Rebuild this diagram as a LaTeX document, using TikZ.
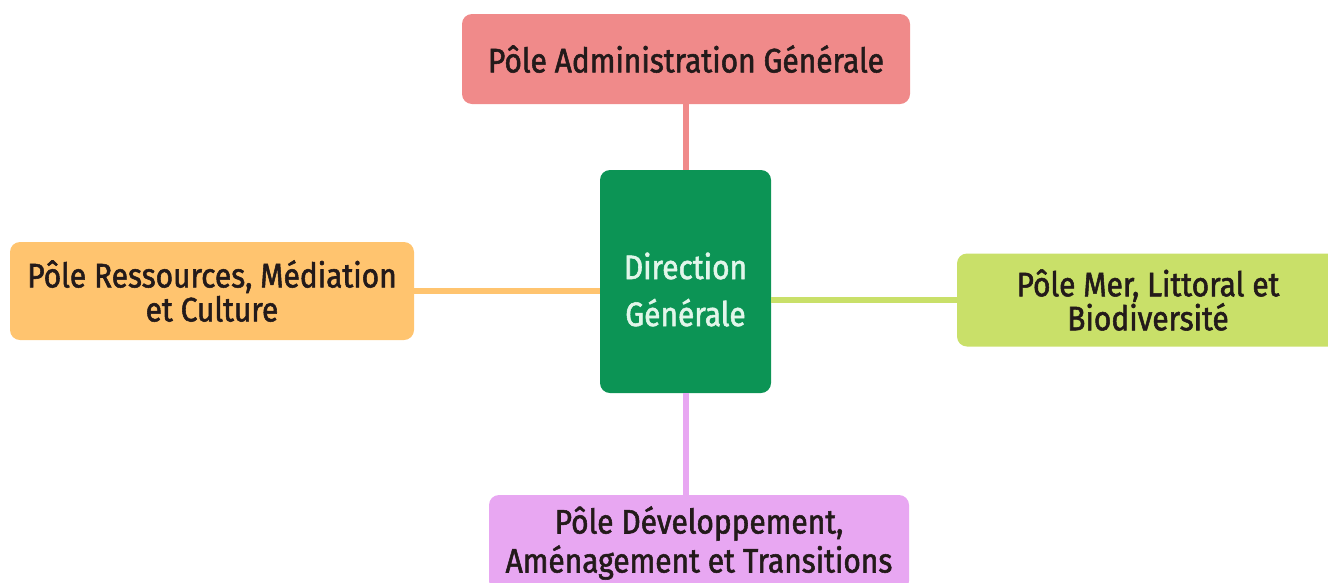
\documentclass[tikz,border=0pt]{standalone}
\usepackage{fontspec}
\setmainfont{Fira Sans}[FakeStretch=0.88, UprightFeatures={FakeBold=1.6}]
\definecolor{admred}{HTML}{F08A8A}
\definecolor{dggreen}{HTML}{0C9455}
\definecolor{rmcorange}{HTML}{FFC46F}
\definecolor{mlblime}{HTML}{C9E069}
\definecolor{datpink}{HTML}{E8A7F2}
\definecolor{poletext}{HTML}{231A1A}
\definecolor{dgtext}{HTML}{E2F6EA}
\tikzset{
  pole/.style={rectangle, rounded corners=10pt, inner sep=0pt, align=center,
    text=poletext, font=\fontsize{34}{34}\selectfont},
  link/.style={line width=6pt}
}
\begin{document}
\begin{tikzpicture}[x=1pt, y=-1pt]
    \useasboundingbox (0,0) rectangle (1328,582);
    % Nodes
    \node[pole, fill=admred, minimum width=448pt, minimum height=90pt] (adm) at (686, 59) {Pôle Administration Générale};
    \node[pole, fill=dggreen, minimum width=171pt, minimum height=223pt] (dg) at (685.5, 281.5) {};
    \node[pole, text=dgtext, font=\fontsize{34}{47}\selectfont] (dglabel) at (685.5, 289.5) {Direction\\Générale};
    \node[pole, fill=rmcorange, minimum width=404pt, minimum height=98pt] (rmc) at (212, 291) {Pôle Ressources, Médiation\\et Culture};
    \node[pole, fill=mlblime, minimum width=382pt, minimum height=93pt] (mlb) at (1148, 300) {Pôle Mer, Littoral et\\Biodiversité};
    \node[pole, fill=datpink, minimum width=420pt, minimum height=96pt,
      font=\fontsize{34}{39}\selectfont] (dat) at (699, 543) {Pôle Développement,\\Aménagement et Transitions};

    % Edges
    \draw[link, admred] (adm.south) -- (adm.south |- dg.north);
    \draw[link, rmcorange] (rmc.east) -- (rmc.east -| dg.west);
    \draw[link, mlblime] (mlb.west) -- (mlb.west -| dg.east);
    \draw[link, datpink] (dg.south) -- (dg.south |- dat.north);
\end{tikzpicture}
\end{document}
